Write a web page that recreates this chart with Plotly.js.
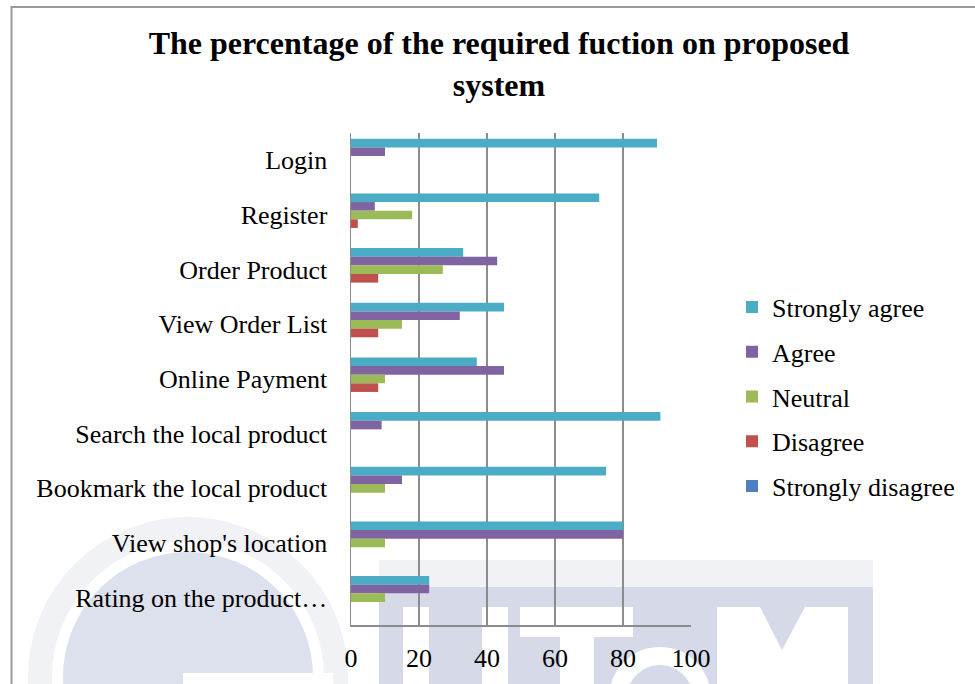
<!DOCTYPE html>
<html>
<head>
<meta charset="utf-8">
<script src="https://cdn.plot.ly/plotly-3.0.1.min.js"></script>
<style>html,body{margin:0;padding:0;background:#fff;}#chart{width:975px;height:684px;}</style>
</head>
<body>
<div id="chart"></div>
<script>
const categories = ["Login", "Register", "Order Product", "View Order List", "Online Payment",
  "Search the local product", "Bookmark the local product", "View shop's location", "Rating on the product\u2026"];
const seriesNames = ["Strongly agree", "Agree", "Neutral", "Disagree", "Strongly disagree"];
const stronglyAgree = [90, 73, 33, 45, 37, 91, 75, 80, 23];
const agree = [10, 7, 43, 32, 45, 9, 15, 80, 23];
const neutral = [0, 18, 27, 15, 10, 0, 10, 10, 10];
const disagree = [0, 2, 8, 8, 8, 0, 0, 0, 0];
const stronglyDisagree = [0, 0, 0, 0, 0, 0, 0, 0, 0];
const xTicks = [0, 20, 40, 60, 80, 100];

const seriesValues = [stronglyAgree, agree, neutral, disagree, stronglyDisagree];
const colors = ["#4bacc6", "#8064a2", "#9bbb59", "#c0504d", "#4f81bd"];

const W = 975, H = 684, L = 351, R = 284, T = 133, B = 59;
const PW = W - L - R, PH = H - T - B;
const px = v => (v - L) / PW;
const py = v => (H - B - v) / PH;
const FONT = "Liberation Serif, Times New Roman, serif";

const traces = seriesNames.map((name, i) => ({
  type: "bar", orientation: "h", name: name,
  y: categories, x: seriesValues[i],
  marker: {color: colors[i]},
  legendgroup: "g" + i, hoverinfo: "x+name"
}));

const lav = "#d5d9e8";
const white = "#ffffff";
const shapes = [
  // page frame
  {type: "rect", xref: "paper", yref: "paper", x0: px(11.5), x1: px(1200), y0: py(900), y1: py(7),
   line: {color: "#9a9a9a", width: 2}, fillcolor: "rgba(0,0,0,0)", layer: "below"},
  // watermark approximation (logo ring + disc)
  {type: "circle", xref: "paper", yref: "paper", x0: px(188 - 148), x1: px(188 + 148), y0: py(677 + 148), y1: py(677 - 148),
   line: {width: 24, color: "#f1f2f6"}, fillcolor: "rgba(0,0,0,0)", layer: "below"},
  {type: "circle", xref: "paper", yref: "paper", x0: px(188 - 125), x1: px(188 + 125), y0: py(677 + 125), y1: py(677 - 125),
   line: {width: 0}, fillcolor: lav, opacity: 0.8, layer: "below"},
  {type: "rect", xref: "paper", yref: "paper", x0: px(183), x1: px(333), y0: py(700), y1: py(673),
   line: {width: 0}, fillcolor: white, layer: "below"},
  // watermark letters band
  {type: "rect", xref: "paper", yref: "paper", x0: px(379), x1: px(873), y0: py(587), y1: py(560),
   line: {width: 0}, fillcolor: "#f0f2f6", layer: "below"},
  {type: "rect", xref: "paper", yref: "paper", x0: px(379), x1: px(873), y0: py(700), y1: py(587),
   line: {width: 0}, fillcolor: lav, layer: "below"},
  {type: "rect", xref: "paper", yref: "paper", x0: px(403), x1: px(429), y0: py(700), y1: py(607),
   line: {width: 0}, fillcolor: white, layer: "below"},
  {type: "rect", xref: "paper", yref: "paper", x0: px(482), x1: px(508), y0: py(700), y1: py(607),
   line: {width: 0}, fillcolor: white, layer: "below"},
  {type: "rect", xref: "paper", yref: "paper", x0: px(520), x1: px(633), y0: py(637), y1: py(607),
   line: {width: 0}, fillcolor: white, layer: "below"},
  {type: "rect", xref: "paper", yref: "paper", x0: px(560), x1: px(594), y0: py(700), y1: py(637),
   line: {width: 0}, fillcolor: white, layer: "below"},
  {type: "circle", xref: "paper", yref: "paper", x0: px(618), x1: px(702), y0: py(740), y1: py(656),
   line: {width: 18, color: white}, fillcolor: "rgba(0,0,0,0)", layer: "below"},
  {type: "path", xref: "paper", yref: "paper", layer: "below", fillcolor: white, line: {width: 0},
   path: `M${px(717)},${py(700)} L${px(717)},${py(607)} L${px(760)},${py(607)} L${px(782)},${py(650)} L${px(805)},${py(607)} L${px(848)},${py(607)} L${px(848)},${py(700)} Z`}
];

const layout = {
  width: W, height: H,
  margin: {l: L, r: R, t: T, b: B, autoexpand: false},
  paper_bgcolor: "#ffffff", plot_bgcolor: "rgba(0,0,0,0)",
  font: {family: FONT, size: 26, color: "#000000"},
  title: {
    text: "<b>The percentage of the required fuction on proposed<br>system</b>",
    font: {family: FONT, size: 32, color: "#000000"},
    xref: "container", yref: "container", x: 499 / W, xanchor: "center",
    y: 1 - 54 / H, yanchor: "top"
  },
  barmode: "group", bargap: 0.21, bargroupgap: 0,
  xaxis: {
    range: [0, 100], tickvals: xTicks, ticktext: xTicks.map(String),
    showgrid: true, gridcolor: "#8c8c8c", gridwidth: 1.5,
    zeroline: false, showline: true, linecolor: "#8c8c8c", linewidth: 1.5,
    ticks: "", ticklabelstandoff: 9, tickfont: {family: FONT, size: 26, color: "#000"},
    fixedrange: true
  },
  yaxis: {
    type: "category", autorange: "reversed",
    showgrid: false, zeroline: false, showline: true, linecolor: "#8c8c8c", linewidth: 1.5,
    ticks: "", ticklabelstandoff: 17, tickfont: {family: FONT, size: 26, color: "#000"},
    fixedrange: true
  },
  showlegend: true,
  legend: {
    x: px(732), xanchor: "left", y: py(397), yanchor: "middle",
    traceorder: "grouped", tracegroupgap: 8,
    font: {family: FONT, size: 26, color: "#000"},
    bgcolor: "rgba(0,0,0,0)", itemclick: false, itemdoubleclick: false
  },
  shapes: shapes
};

Plotly.newPlot("chart", traces, layout, {displayModeBar: false, staticPlot: true});
</script>
</body>
</html>
